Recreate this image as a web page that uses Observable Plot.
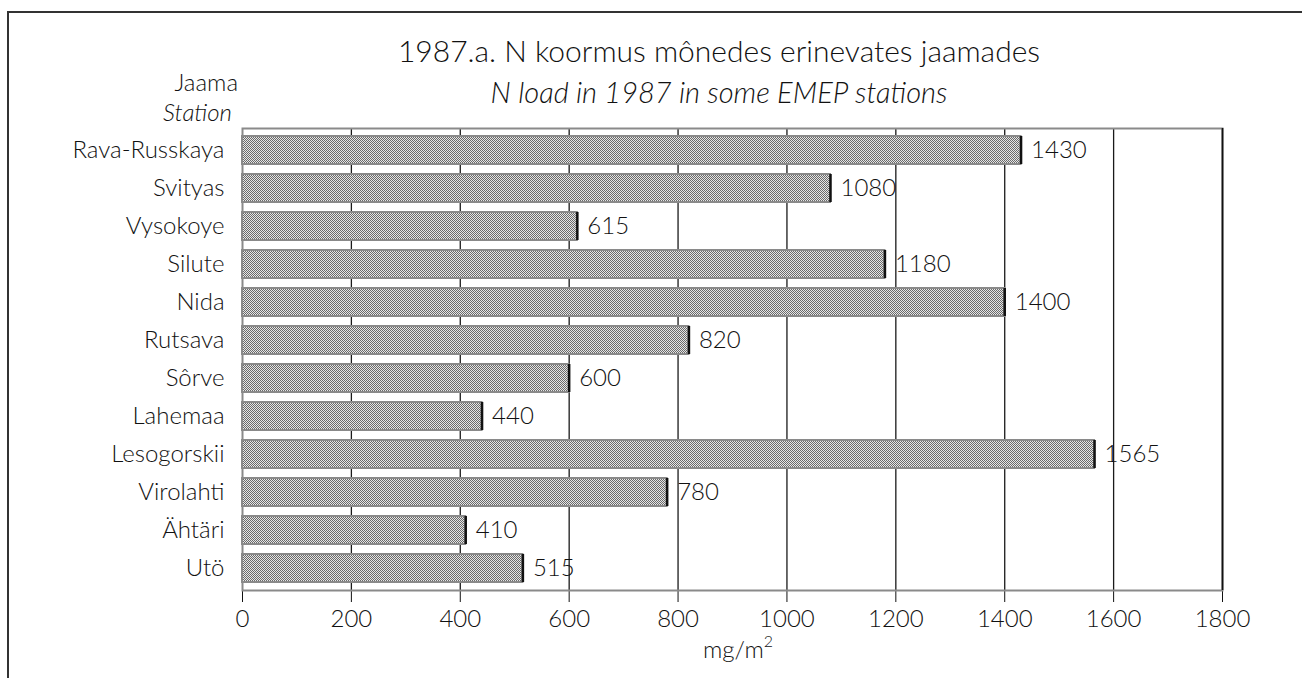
<!DOCTYPE html>
<html>
<head>
<meta charset="utf-8">
<script src="https://cdn.jsdelivr.net/npm/d3@7"></script>
<script src="https://cdn.jsdelivr.net/npm/@observablehq/plot@0.6"></script>
<style>
  html, body { margin: 0; padding: 0; background: #fff; }
  #wrap { position: relative; width: 1302px; height: 678px; overflow: hidden; font-family: Lato, "Noto Sans", sans-serif; font-weight: 300; color: #111; }
  .t { position: absolute; white-space: nowrap; line-height: 1; }
  #chart { position: absolute; left: 0; top: 110px; }
  #chart svg text { font-weight: 300; }
</style>
</head>
<body>
<div id="wrap">
  <div style="position:absolute;left:8px;top:11px;width:1294px;height:2px;background:#333;"></div>
  <div style="position:absolute;left:7px;top:11px;width:2px;height:667px;background:#333;"></div>
  <div id="title" class="t" style="left:719px;top:35px;font-size:30px;transform:translateX(-50%);"></div>
  <div id="subtitle" class="t" style="left:719px;top:77px;font-size:29px;font-style:italic;transform:translateX(-50%);"></div>
  <div id="ylab1" class="t" style="right:1064px;top:70px;font-size:24px;"></div>
  <div id="ylab2" class="t" style="right:1070px;top:100px;font-size:24px;font-style:italic;"></div>
  <div id="xlab" class="t" style="left:738px;top:637px;font-size:24px;transform:translateX(-50%);"></div>
  <div id="chart"></div>
</div>
<script>
const titleText = "1987.a. N koormus mônedes erinevates jaamades";
const subtitleText = "N load in 1987 in some EMEP stations";
const yLabelEt = "Jaama";
const yLabelEn = "Station";
const xLabelUnit = "mg/m";
const stations = ["Rava-Russkaya", "Svityas", "Vysokoye", "Silute", "Nida", "Rutsava", "Sôrve", "Lahemaa", "Lesogorskii", "Virolahti", "Ähtäri", "Utö"];
const loads = [1430, 1080, 615, 1180, 1400, 820, 600, 440, 1565, 780, 410, 515];
const xTicks = [0, 200, 400, 600, 800, 1000, 1200, 1400, 1600, 1800];

document.getElementById("title").textContent = titleText;
document.getElementById("subtitle").textContent = subtitleText;
document.getElementById("ylab1").textContent = yLabelEt;
document.getElementById("ylab2").textContent = yLabelEn;
document.getElementById("xlab").innerHTML = xLabelUnit + "<sup style='font-size:16px;line-height:0;vertical-align:baseline;position:relative;top:-11px'>2</sup>";

const data = stations.map((s, i) => ({station: s, load: loads[i]}));

const svg = Plot.plot({
  width: 1302,
  height: 568,
  marginTop: 18,
  marginBottom: 88,
  marginLeft: 242,
  marginRight: 80,
  style: {fontFamily: "Lato, 'Noto Sans', sans-serif", fontSize: "24px", color: "#111", background: "transparent"},
  x: {domain: [0, 1800], ticks: xTicks, tickSize: 12, tickPadding: 7, label: null, tickFormat: d => String(d)},
  y: {domain: stations, paddingInner: 0.27, paddingOuter: 0.135, tickSize: 0, tickPadding: 18, label: null},
  marks: [
    Plot.ruleX(xTicks.slice(1), {stroke: "#1a1a1a", strokeWidth: 1.3}),
    Plot.frame({stroke: "#8a8a8a", strokeWidth: 2}),
    Plot.barX(data, {x: "load", y: "station", fill: "url(#stip)", stroke: "#8a8a8a", strokeWidth: 2}),
    Plot.tickX(data, {x: "load", y: "station", stroke: "#111", strokeWidth: 2.5}),
    Plot.text(data, {x: "load", y: "station", text: d => String(d.load), dx: 10, textAnchor: "start", fontSize: 24, fill: "#111"}),
    Plot.ruleX([1800], {stroke: "#111", strokeWidth: 1.6})
  ]
});

const defs = document.createElementNS("http://www.w3.org/2000/svg", "defs");
defs.innerHTML = '<pattern id="stip" width="2" height="2" patternUnits="userSpaceOnUse">' +
  '<rect width="2" height="2" fill="#e6e6e6"/>' +
  '<rect width="1" height="1" fill="#6a6a6a"/>' +
  '<rect x="1" y="1" width="1" height="1" fill="#6a6a6a"/></pattern>';
svg.insertBefore(defs, svg.firstChild);
document.getElementById("chart").appendChild(svg);
</script>
</body>
</html>
